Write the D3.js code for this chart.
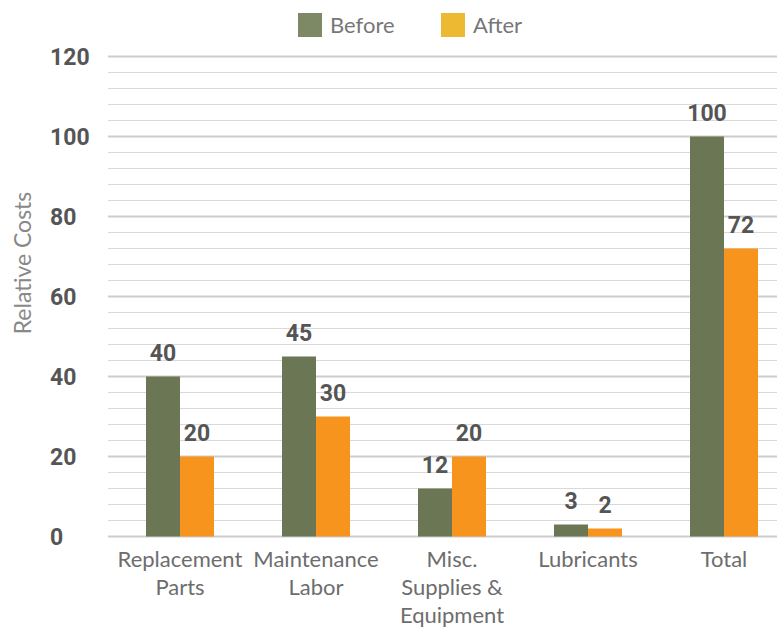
<!DOCTYPE html>
<html>
<head>
<meta charset="utf-8">
<script src="https://cdn.jsdelivr.net/npm/d3@7"></script>
<style>
  html, body { margin: 0; padding: 0; background: #fff; }
  svg { display: block; }
</style>
</head>
<body>
<svg id="chart" width="777" height="627"></svg>
<script>
const categories = [["Replacement", "Parts"], ["Maintenance", "Labor"], ["Misc.", "Supplies &", "Equipment"], ["Lubricants"], ["Total"]];
const seriesNames = ["Before", "After"];
const beforeValues = [40, 45, 12, 3, 100];
const afterValues = [20, 30, 20, 2, 72];
const yTicks = [0, 20, 40, 60, 80, 100, 120];

const barColors = { Before: "#6b7655", After: "#f7941e" };
const legendColors = { Before: "#7d8964", After: "#edb832" };

const svg = d3.select("#chart");
const keys = categories.map(c => c.join(" "));

const x0 = d3.scaleBand().domain(keys).range([112, 792]).paddingInner(0.5).paddingOuter(0.25);
const x1 = d3.scaleBand().domain(seriesNames).range([0, x0.bandwidth()]);
const y = d3.scaleLinear().domain([0, 120]).range([536.5, 56.5]);

// gridlines
const minor = d3.range(0, 121, 4);
svg.append("g").selectAll("line").data(minor).join("line")
  .attr("x1", 108).attr("x2", 777)
  .attr("y1", d => y(d)).attr("y2", d => y(d))
  .attr("stroke", d => d % 20 === 0 ? "#cdcdcd" : "#d9d9d9")
  .attr("stroke-width", d => d % 20 === 0 ? 2 : 1.2);

// y axis tick labels
const yAxis = d3.axisLeft(y).tickValues(yTicks).tickSize(0);
const yg = svg.append("g").attr("transform", "translate(50,0)").call(yAxis);
yg.select(".domain").remove();
yg.selectAll("text")
  .attr("x", 0)
  .attr("text-anchor", "start")
  .attr("dy", "0.35em")
  .attr("font-family", "Roboto, sans-serif")
  .attr("font-weight", "bold")
  .attr("font-size", 23)
  .attr("fill", "#555");

// y axis title
svg.append("text")
  .attr("transform", "translate(31,263) rotate(-90)")
  .attr("text-anchor", "middle")
  .attr("font-family", "Lato, sans-serif")
  .attr("font-size", 23)
  .attr("fill", "#888")
  .text("Relative Costs");

// bars
const rows = keys.map((k, i) => ({ key: k, Before: beforeValues[i], After: afterValues[i] }));
const groups = svg.append("g").selectAll("g").data(rows).join("g")
  .attr("transform", d => `translate(${x0(d.key)},0)`);
groups.selectAll("rect").data(d => seriesNames.map(s => ({ s, v: d[s] }))).join("rect")
  .attr("x", d => x1(d.s))
  .attr("width", x1.bandwidth())
  .attr("y", d => y(d.v))
  .attr("height", d => y(0) - y(d.v))
  .attr("fill", d => barColors[d.s]);
groups.selectAll("text.val").data(d => seriesNames.map(s => ({ s, v: d[s] }))).join("text")
  .attr("class", "val")
  .attr("x", d => x1(d.s) + x1.bandwidth() / 2)
  .attr("y", d => y(d.v) - 16)
  .attr("text-anchor", "middle")
  .attr("font-family", "Roboto, sans-serif")
  .attr("font-weight", "bold")
  .attr("font-size", 23)
  .attr("fill", "#555")
  .text(d => d.v);

// x labels
const xl = svg.append("g").selectAll("text").data(categories).join("text")
  .attr("x", (d, i) => x0(keys[i]) + x0.bandwidth() / 2)
  .attr("y", 567)
  .attr("text-anchor", "middle")
  .attr("font-family", "Lato, sans-serif")
  .attr("font-size", 22)
  .attr("fill", "#6d6d6d");
xl.selectAll("tspan").data(d => d).join("tspan")
  .attr("x", function() { return d3.select(this.parentNode).attr("x"); })
  .attr("dy", (d, i) => i === 0 ? 0 : 28)
  .text(d => d);

// legend
const legendX = [298, 441];
const lg = svg.append("g").selectAll("g").data(seriesNames).join("g")
  .attr("transform", (d, i) => `translate(${legendX[i]},13)`);
lg.append("rect").attr("width", 24).attr("height", 24).attr("fill", d => legendColors[d]);
lg.append("text")
  .attr("x", 32).attr("y", 12).attr("dy", "0.35em")
  .attr("font-family", "Lato, sans-serif")
  .attr("font-size", 22)
  .attr("fill", "#777")
  .text(d => d);
</script>
</body>
</html>
